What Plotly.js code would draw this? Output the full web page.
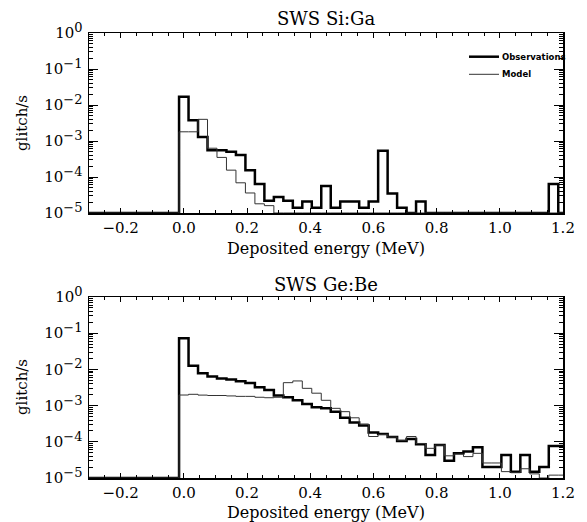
<!DOCTYPE html>
<html><head><meta charset="utf-8">
<script src="https://cdn.plot.ly/plotly-3.0.1.min.js"></script>
<style>html,body{margin:0;padding:0;background:#fff}#chart{width:587px;height:522px}</style>
</head><body><div id="chart"></div>
<script>
// Bin centres (MeV)
const binCenters = [0.00,0.03,0.06,0.09,0.12,0.15,0.18,0.21,0.24,0.27,
  0.30,0.33,0.36,0.39,0.42,0.45,0.48,0.51,0.54,0.57,
  0.60,0.63,0.66,0.69,0.72,0.75,0.78,0.81,0.84,0.87,
  0.90,0.93,0.96,0.99,1.02,1.05,1.08,1.11,1.14,1.17,1.20];
const binWidth = 0.03;

// SWS Si:Ga (glitch/s)
const siGaObs = [1.7e-2,3.8e-3,1.3e-3,5.5e-4,5.5e-4,5.0e-4,4.1e-4,1.55e-4,6.4e-5,2.2e-5,
  2.8e-5,2.2e-5,1.4e-5,2.1e-5,1.4e-5,5.6e-5,1.4e-5,2.1e-5,2.1e-5,1.4e-5,
  2.1e-5,5.4e-4,3.5e-5,1.4e-5,0,2.1e-5,0,0,0,0,
  0,0,0,0,0,0,0,0,0,6.4e-5,0];
const siGaModel = [1.8e-3,1.8e-3,4.0e-3,6.3e-4,3.5e-4,1.55e-4,6.9e-5,3.6e-5,1.8e-5,1.6e-5,
  0,0,0,0,0,0,0,0,0,0,
  0,0,0,0,0,0,0,0,0,0,
  0,0,0,0,0,0,0,0,0,0,0];

// SWS Ge:Be (glitch/s)
const geBeObs = [7.2e-2,1.27e-2,7.8e-3,6.4e-3,5.6e-3,5.3e-3,4.7e-3,4.2e-3,3.2e-3,2.7e-3,
  1.9e-3,1.7e-3,1.4e-3,1.1e-3,9.0e-4,8.5e-4,6.8e-4,4.6e-4,3.4e-4,2.8e-4,
  1.8e-4,1.65e-4,1.35e-4,1.05e-4,1.2e-4,8.5e-5,4.3e-5,8.1e-5,3.0e-5,4.8e-5,
  5.4e-5,7.1e-5,2.0e-5,2.0e-5,4.3e-5,1.5e-5,4.3e-5,1.5e-5,2.0e-5,7.6e-5,7.6e-5];
const geBeModel = [1.96e-3,2.05e-3,1.95e-3,1.9e-3,1.9e-3,1.85e-3,1.8e-3,1.8e-3,1.7e-3,1.65e-3,
  1.7e-3,4.3e-3,4.8e-3,3.0e-3,2.2e-3,1.4e-3,8.4e-4,6.8e-4,4.6e-4,3.1e-4,
  1.4e-4,1.6e-4,1.35e-4,1.1e-4,1.4e-4,9.0e-5,6.6e-5,8.1e-5,4.1e-5,4.6e-5,
  3.9e-5,4.8e-5,2.6e-5,2.6e-5,1.5e-5,1.4e-5,1.8e-5,1.3e-5,1.0e-5,1.2e-5,1.2e-5];

const xTickVals = [-0.2,0.0,0.2,0.4,0.6,0.8,1.0,1.2];
const xTickText = ['\u22120.2','0.0','0.2','0.4','0.6','0.8','1.0','1.2'];
const yTickVals = [1,1e-1,1e-2,1e-3,1e-4,1e-5];
const yExponents = ['0','\u22121','\u22122','\u22123','\u22124','\u22125'];
const yTickText = yExponents.map(e => '10<sup><span style="font-size:13px">' + e + '</span></sup>');

const xMin = -0.3, xMax = 1.2, yFloor = 1e-5;

function stepPath(vals){
  const xs=[xMin], ys=[yFloor];
  vals.forEach((v,i)=>{ xs.push(binCenters[i]-binWidth/2); ys.push(Math.max(v,yFloor)); });
  xs.push(binCenters[binCenters.length-1]+binWidth/2); ys.push(Math.max(vals[vals.length-1],yFloor));
  return {x:xs,y:ys};
}

const minorY = [];
for (let e=-5;e<0;e++) for (let m=2;m<=9;m++) minorY.push(m*Math.pow(10,e));

const serif = 'DejaVu Serif';
function xAxis(anchor){
  return {domain:[89/587,563/587], range:[xMin,xMax], anchor:anchor,
    tickmode:'array', tickvals:xTickVals, ticktext:xTickText,
    ticks:'inside', ticklen:5, tickwidth:1, tickcolor:'#000', mirror:'allticks',
    showline:true, linewidth:1.5, linecolor:'#000', showgrid:false, zeroline:false,
    minor:{tickmode:'linear', tick0:0, dtick:0.05, ticks:'inside', ticklen:3, tickwidth:1, tickcolor:'#000', showgrid:false},
    tickfont:{family:serif, size:15, color:'#000'}, automargin:false};
}
function yAxis(domain, anchor){
  return {domain:domain, type:'log', range:[-5,0], anchor:anchor,
    tickmode:'array', tickvals:yTickVals, ticktext:yTickText,
    ticks:'inside', ticklen:9, tickwidth:1, tickcolor:'#000', mirror:'allticks',
    showline:true, linewidth:1.5, linecolor:'#000', showgrid:false, zeroline:false,
    minor:{tickmode:'array', tickvals:minorY, ticks:'inside', ticklen:4, tickwidth:1, tickcolor:'#000', showgrid:false},
    tickfont:{family:serif, size:15, color:'#000'}, ticklabelstandoff:2, automargin:false};
}

const s1o = stepPath(siGaObs), s1m = stepPath(siGaModel);
const s2o = stepPath(geBeObs), s2m = stepPath(geBeModel);
const traces = [
  {x:s1o.x, y:s1o.y, xaxis:'x', yaxis:'y', mode:'lines', line:{shape:'hv', color:'#000', width:2.5}, name:'Observations'},
  {x:s1m.x, y:s1m.y, xaxis:'x', yaxis:'y', mode:'lines', line:{shape:'hv', color:'#333', width:1}, name:'Model'},
  {x:s2o.x, y:s2o.y, xaxis:'x2', yaxis:'y2', mode:'lines', line:{shape:'hv', color:'#000', width:2.5}, name:'Observations'},
  {x:s2m.x, y:s2m.y, xaxis:'x2', yaxis:'y2', mode:'lines', line:{shape:'hv', color:'#333', width:1}, name:'Model'}
];

const px = v => v/587, py = v => 1 - v/522;
const tf = (s)=>({family:serif, size:s, color:'#000'});
const annotations = [
  {text:'SWS Si:Ga', x:px(326), y:py(19), font:tf(18)},
  {text:'SWS Ge:Be', x:px(326), y:py(284), font:tf(18)},
  {text:'Deposited energy (MeV)', x:px(326), y:py(248), font:tf(16)},
  {text:'Deposited energy (MeV)', x:px(326), y:py(512), font:tf(16)},
  {text:'glitch/s', x:px(22), y:py(123), textangle:-90, font:tf(15)},
  {text:'glitch/s', x:px(22), y:py(387), textangle:-90, font:tf(15)},
  {text:'<b>Observations</b>', x:px(500), y:py(56.7), xanchor:'left', font:{family:'DejaVu Sans', size:8.5, color:'#000'}},
  {text:'<b>Model</b>', x:px(500), y:py(74.3), xanchor:'left', font:{family:'DejaVu Sans', size:8.5, color:'#000'}}
].map(a=>Object.assign({xref:'paper', yref:'paper', showarrow:false, xanchor:'center', yanchor:'middle'}, a));

const shapes = [
  {type:'line', xref:'paper', yref:'paper', x0:px(469), x1:px(499), y0:py(56.7), y1:py(56.7), line:{color:'#000', width:2.5}},
  {type:'line', xref:'paper', yref:'paper', x0:px(469), x1:px(499), y0:py(74.3), y1:py(74.3), line:{color:'#333', width:1}}
];

const layout = {
  width:587, height:522, margin:{l:0,r:0,t:0,b:0}, showlegend:false,
  paper_bgcolor:'#fff', plot_bgcolor:'#fff',
  xaxis: xAxis('y'),
  yaxis: yAxis([1-213/522, 1-33/522],'x'),
  xaxis2: xAxis('y2'),
  yaxis2: yAxis([1-478/522, 1-297/522],'x2'),
  annotations: annotations, shapes: shapes
};
Plotly.newPlot('chart', traces, layout, {staticPlot:true, displayModeBar:false});
</script></body></html>
